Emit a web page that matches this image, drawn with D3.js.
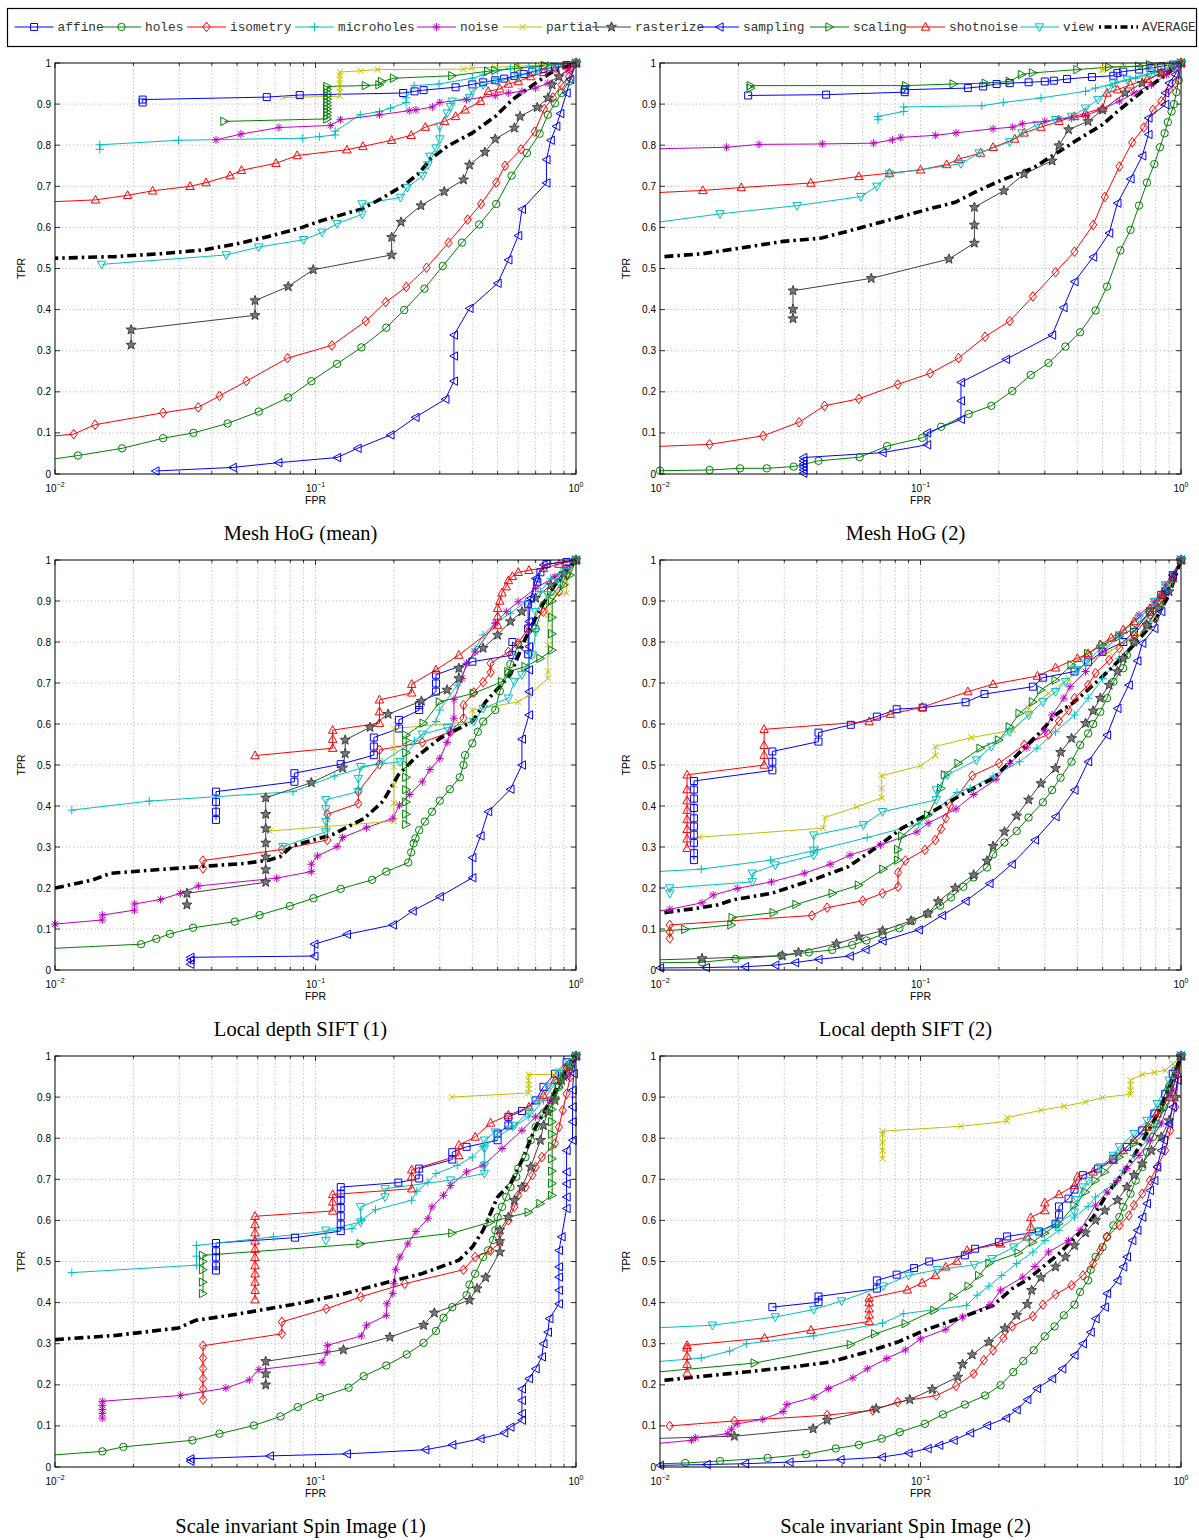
<!DOCTYPE html>
<html><head><meta charset="utf-8">
<script src="https://cdn.jsdelivr.net/npm/d3@7"></script>
<style>body{margin:0;background:#fff}svg{display:block}</style>
</head><body><svg id="c" width="1199" height="1540"></svg>
<script>
const seriesNames = ["affine","holes","isometry","microholes","noise","partial","rasterize","sampling","scaling","shotnoise","view","AVERAGE"];
const seriesColors = ["#0000ff","#008000","#ff0000","#00bfbf","#bf00bf","#bfbf00","#404040","#0000ff","#008000","#ff0000","#00bfbf","#000000"];
const seriesMarkers = ["square","circle","diamond","plus","star","x","pentagram","left","right","up","down","none"];
const panelTitles = ["Mesh HoG (mean)","Mesh HoG (2)","Local depth SIFT (1)","Local depth SIFT (2)","Scale invariant Spin Image (1)","Scale invariant Spin Image (2)"];
const yTicks = [0,0.1,0.2,0.3,0.4,0.5,0.6,0.7,0.8,0.9,1];
const yTickLabels = ["0","0.1","0.2","0.3","0.4","0.5","0.6","0.7","0.8","0.9","1"];
const xTicks = [0.01,0.1,1];
const xTickExps = ["\u22122","\u22121","0"];

const meshHogMean = [
[[0.0217,0.904],[0.0217,0.911],[0.065,0.917],[0.087,0.922],[0.217,0.927],[0.24,0.931],[0.26,0.934],[0.345,0.941],[0.4,0.948],[0.44,0.953],[0.49,0.958],[0.53,0.962],[0.58,0.968],[0.63,0.973],[0.68,0.979],[0.75,0.985],[0.83,0.99],[0.92,0.995],[1,1]],
[[0.008,0.028],[0.01225,0.045],[0.0181,0.0625],[0.026,0.087],[0.034,0.1],[0.046,0.123],[0.0606,0.152],[0.0786,0.186],[0.0964,0.226],[0.121,0.268],[0.15,0.308],[0.187,0.356],[0.219,0.399],[0.262,0.451],[0.308,0.506],[0.365,0.563],[0.425,0.607],[0.494,0.657],[0.566,0.726],[0.648,0.781],[0.725,0.828],[0.78,0.874],[0.83,0.902],[0.88,0.927],[0.94,0.955],[1,1]],
[[0.008,0.087],[0.0118,0.097],[0.01426,0.12],[0.026,0.149],[0.0355,0.162],[0.0428,0.19],[0.0543,0.226],[0.0781,0.282],[0.1156,0.313],[0.156,0.372],[0.186,0.418],[0.223,0.455],[0.267,0.502],[0.324,0.563],[0.384,0.619],[0.432,0.657],[0.494,0.709],[0.534,0.75],[0.616,0.79],[0.694,0.833],[0.755,0.888],[0.815,0.916],[0.88,0.947],[0.94,0.967],[1,1]],
[[0.01486,0.79],[0.01486,0.801],[0.0298,0.812],[0.0893,0.817],[0.1035,0.821],[0.119,0.825],[0.119,0.834],[0.1486,0.874],[0.176,0.882],[0.194,0.89],[0.223,0.904],[0.223,0.915],[0.239,0.945],[0.298,0.949],[0.4,0.963],[0.44,0.971],[0.5,0.982],[0.56,0.987],[0.66,0.99],[0.78,0.994],[1,1]],
[[0.0415,0.813],[0.0517,0.827],[0.0724,0.843],[0.114,0.848],[0.1247,0.862],[0.176,0.874],[0.229,0.884],[0.243,0.886],[0.281,0.893],[0.3,0.904],[0.38,0.911],[0.49,0.921],[0.55,0.927],[0.62,0.931],[0.7,0.939],[0.78,0.951],[0.86,0.967],[0.94,0.983],[1,1]],
[[0.075,0.916],[0.124,0.919],[0.124,0.93],[0.124,0.94],[0.124,0.95],[0.124,0.96],[0.124,0.97],[0.124,0.978],[0.149,0.981],[0.173,0.984],[0.37,0.985],[0.4,0.988],[0.49,0.99],[0.6,0.992],[0.76,0.996],[1,1]],
[[0.0196,0.314],[0.0196,0.351],[0.0586,0.386],[0.0586,0.422],[0.0786,0.456],[0.098,0.497],[0.196,0.533],[0.196,0.576],[0.213,0.613],[0.254,0.653],[0.312,0.687],[0.37,0.716],[0.39,0.752],[0.447,0.783],[0.49,0.815],[0.58,0.842],[0.61,0.87],[0.71,0.892],[0.78,0.915],[0.81,0.947],[0.86,0.967],[1,1]],
[[0.0243,0.0073],[0.0481,0.016],[0.072,0.0276],[0.121,0.04],[0.145,0.0625],[0.194,0.095],[0.242,0.138],[0.315,0.182],[0.34,0.226],[0.34,0.287],[0.34,0.338],[0.39,0.403],[0.5,0.464],[0.55,0.521],[0.6,0.58],[0.62,0.644],[0.77,0.708],[0.77,0.765],[0.8,0.812],[0.84,0.846],[0.87,0.877],[0.92,0.927],[0.95,0.96],[1,1]],
[[0.0447,0.858],[0.111,0.864],[0.111,0.872],[0.111,0.88],[0.111,0.888],[0.111,0.896],[0.111,0.904],[0.111,0.912],[0.111,0.92],[0.111,0.928],[0.111,0.936],[0.111,0.943],[0.156,0.945],[0.176,0.947],[0.18,0.955],[0.2,0.963],[0.335,0.969],[0.46,0.98],[0.49,0.982],[0.6,0.987],[0.76,0.994],[1,1]],
[[0.008,0.66],[0.0143,0.667],[0.019,0.678],[0.0237,0.689],[0.033,0.7],[0.038,0.709],[0.047,0.726],[0.052,0.739],[0.0705,0.756],[0.085,0.775],[0.132,0.789],[0.152,0.797],[0.196,0.812],[0.233,0.824],[0.264,0.844],[0.313,0.858],[0.345,0.87],[0.375,0.886],[0.43,0.907],[0.46,0.931],[0.51,0.937],[0.55,0.949],[0.6,0.955],[0.67,0.967],[0.75,0.977],[0.83,0.986],[0.92,0.994],[1,1]],
[[0.0151,0.51],[0.0454,0.533],[0.0605,0.552],[0.09,0.57],[0.106,0.588],[0.121,0.609],[0.151,0.632],[0.151,0.657],[0.212,0.673],[0.225,0.697],[0.258,0.726],[0.27,0.752],[0.275,0.773],[0.29,0.793],[0.3,0.815],[0.3,0.846],[0.32,0.878],[0.33,0.894],[0.335,0.907],[0.39,0.916],[0.4,0.933],[0.44,0.947],[0.5,0.955],[0.6,0.967],[0.7,0.98],[0.83,0.99],[1,1]],
[[0.008,0.524],[0.01,0.525],[0.017,0.529],[0.0255,0.536],[0.037,0.545],[0.05,0.56],[0.066,0.578],[0.087,0.598],[0.106,0.617],[0.151,0.645],[0.18,0.671],[0.22,0.704],[0.25,0.732],[0.275,0.765],[0.32,0.797],[0.4,0.83],[0.49,0.87],[0.57,0.911],[0.7,0.951],[0.8,0.976],[1,1]]
];

const meshHog2 = [
[[0.0218,0.921],[0.0434,0.923],[0.087,0.929],[0.087,0.935],[0.152,0.939],[0.174,0.943],[0.196,0.949],[0.22,0.951],[0.26,0.953],[0.3,0.955],[0.325,0.957],[0.365,0.961],[0.455,0.966],[0.55,0.969],[0.57,0.976],[0.6,0.979],[0.69,0.984],[0.77,0.988],[0.84,0.992],[0.93,0.996],[1,1]],
[[0.01,0.008],[0.0155,0.0097],[0.0203,0.0138],[0.0257,0.0138],[0.0326,0.018],[0.0406,0.032],[0.0584,0.041],[0.0745,0.068],[0.1015,0.088],[0.12,0.115],[0.153,0.146],[0.187,0.166],[0.225,0.202],[0.265,0.241],[0.31,0.27],[0.36,0.31],[0.41,0.345],[0.47,0.398],[0.52,0.456],[0.585,0.544],[0.64,0.594],[0.69,0.653],[0.74,0.709],[0.79,0.754],[0.83,0.795],[0.865,0.829],[0.89,0.856],[0.92,0.882],[0.94,0.9],[0.96,0.929],[0.98,0.958],[1,1]],
[[0.008,0.065],[0.0155,0.072],[0.0249,0.093],[0.0342,0.126],[0.0428,0.166],[0.058,0.183],[0.0818,0.218],[0.109,0.245],[0.14,0.282],[0.177,0.334],[0.22,0.372],[0.27,0.432],[0.33,0.491],[0.39,0.541],[0.46,0.606],[0.51,0.674],[0.58,0.748],[0.65,0.807],[0.72,0.843],[0.78,0.886],[0.84,0.907],[0.9,0.935],[0.95,0.951],[1,1]],
[[0.0687,0.862],[0.0687,0.87],[0.0862,0.882],[0.0862,0.893],[0.172,0.896],[0.208,0.904],[0.29,0.915],[0.43,0.931],[0.47,0.939],[0.56,0.951],[0.67,0.963],[0.79,0.976],[0.93,0.992],[1,1]],
[[0.008,0.79],[0.018,0.795],[0.024,0.802],[0.042,0.803],[0.066,0.805],[0.078,0.813],[0.084,0.819],[0.114,0.824],[0.137,0.83],[0.19,0.84],[0.226,0.844],[0.246,0.852],[0.3,0.858],[0.34,0.864],[0.38,0.866],[0.43,0.872],[0.49,0.886],[0.58,0.907],[0.66,0.927],[0.77,0.947],[0.88,0.972],[1,1]],
[[0.5,0.982],[0.5,0.986],[0.51,0.99],[0.6,0.991],[0.7,0.993],[0.8,0.995],[0.9,0.998],[1,1]],
[[0.0324,0.378],[0.0324,0.401],[0.0324,0.446],[0.0647,0.476],[0.1286,0.523],[0.161,0.562],[0.161,0.606],[0.161,0.649],[0.209,0.689],[0.25,0.73],[0.32,0.762],[0.34,0.799],[0.37,0.838],[0.44,0.858],[0.5,0.886],[0.61,0.927],[0.71,0.951],[0.84,0.976],[1,1]],
[[0.0355,0.002],[0.0355,0.01],[0.0355,0.017],[0.0355,0.024],[0.0355,0.032],[0.0355,0.04],[0.0715,0.052],[0.106,0.071],[0.106,0.1],[0.143,0.133],[0.143,0.178],[0.143,0.223],[0.213,0.279],[0.32,0.338],[0.354,0.405],[0.39,0.468],[0.46,0.528],[0.53,0.586],[0.57,0.659],[0.64,0.718],[0.71,0.774],[0.75,0.826],[0.75,0.866],[0.87,0.899],[0.87,0.927],[0.9,0.951],[0.95,0.972],[1,1]],
[[0.0223,0.939],[0.0223,0.945],[0.088,0.945],[0.134,0.949],[0.178,0.951],[0.22,0.955],[0.245,0.972],[0.27,0.976],[0.4,0.984],[0.53,0.99],[0.69,0.992],[0.76,0.996],[1,1]],
[[0.008,0.682],[0.0146,0.69],[0.0205,0.697],[0.0379,0.708],[0.058,0.724],[0.076,0.732],[0.1,0.74],[0.126,0.753],[0.14,0.766],[0.17,0.781],[0.19,0.795],[0.23,0.815],[0.25,0.83],[0.29,0.844],[0.34,0.858],[0.39,0.87],[0.43,0.878],[0.5,0.89],[0.52,0.927],[0.57,0.935],[0.64,0.947],[0.74,0.96],[0.84,0.976],[0.93,0.988],[1,1]],
[[0.008,0.605],[0.017,0.633],[0.0336,0.653],[0.059,0.675],[0.068,0.7],[0.076,0.73],[0.143,0.755],[0.168,0.781],[0.22,0.808],[0.245,0.83],[0.28,0.85],[0.33,0.862],[0.38,0.87],[0.43,0.89],[0.48,0.911],[0.53,0.937],[0.55,0.951],[0.62,0.96],[0.76,0.976],[0.93,0.992],[1,1]],
[[0.0104,0.529],[0.0146,0.536],[0.0205,0.55],[0.0297,0.566],[0.0417,0.574],[0.058,0.598],[0.082,0.624],[0.111,0.647],[0.136,0.661],[0.161,0.685],[0.203,0.714],[0.27,0.744],[0.33,0.779],[0.4,0.813],[0.5,0.85],[0.58,0.886],[0.71,0.931],[0.84,0.963],[1,1]]
];

const localDepthSift1 = [
[[0.0415,0.366],[0.0415,0.386],[0.0415,0.41],[0.0415,0.435],[0.083,0.459],[0.083,0.48],[0.125,0.502],[0.1675,0.524],[0.1675,0.545],[0.1675,0.567],[0.209,0.589],[0.209,0.61],[0.25,0.634],[0.25,0.646],[0.29,0.679],[0.29,0.699],[0.29,0.72],[0.4,0.752],[0.57,0.768],[0.57,0.8],[0.655,0.77],[0.655,0.833],[0.655,0.892],[0.71,0.947],[0.73,0.97],[0.77,0.99],[0.92,0.995],[1,1]],
[[0.008,0.05],[0.0214,0.063],[0.0245,0.076],[0.0276,0.088],[0.0339,0.103],[0.049,0.118],[0.061,0.134],[0.0797,0.156],[0.0982,0.175],[0.125,0.198],[0.165,0.22],[0.187,0.24],[0.227,0.262],[0.233,0.287],[0.238,0.309],[0.242,0.321],[0.25,0.341],[0.263,0.362],[0.28,0.386],[0.3,0.413],[0.328,0.441],[0.358,0.47],[0.37,0.5],[0.375,0.524],[0.4,0.553],[0.42,0.581],[0.44,0.606],[0.49,0.634],[0.51,0.68],[0.55,0.724],[0.56,0.746],[0.6,0.793],[0.7,0.833],[0.75,0.89],[0.8,0.923],[0.86,0.955],[0.92,0.98],[1,1]],
[[0.037,0.248],[0.037,0.267],[0.0743,0.294],[0.111,0.317],[0.111,0.38],[0.146,0.406],[0.146,0.435],[0.176,0.502],[0.176,0.537],[0.257,0.555],[0.33,0.581],[0.37,0.614],[0.37,0.646],[0.405,0.677],[0.44,0.702],[0.47,0.726],[0.47,0.748],[0.55,0.776],[0.6,0.797],[0.66,0.837],[0.75,0.874],[0.86,0.923],[0.92,0.963],[1,1]],
[[0.0116,0.39],[0.023,0.412],[0.082,0.435],[0.118,0.473],[0.18,0.507],[0.24,0.559],[0.29,0.606],[0.3,0.634],[0.35,0.695],[0.41,0.783],[0.44,0.817],[0.49,0.846],[0.56,0.87],[0.64,0.898],[0.73,0.923],[0.8,0.955],[0.9,0.98],[1,1]],
[[0.01,0.112],[0.0152,0.122],[0.0152,0.134],[0.0202,0.146],[0.0202,0.161],[0.0254,0.172],[0.0303,0.187],[0.0355,0.205],[0.0709,0.224],[0.0964,0.24],[0.0964,0.258],[0.1017,0.278],[0.121,0.301],[0.127,0.323],[0.157,0.347],[0.198,0.37],[0.21,0.402],[0.23,0.428],[0.257,0.459],[0.275,0.489],[0.3,0.516],[0.32,0.555],[0.33,0.581],[0.34,0.614],[0.34,0.66],[0.365,0.711],[0.38,0.748],[0.41,0.776],[0.49,0.846],[0.54,0.874],[0.6,0.898],[0.7,0.931],[0.83,0.959],[0.92,0.98],[1,1]],
[[0.0667,0.339],[0.2,0.363],[0.2,0.407],[0.2,0.451],[0.2,0.496],[0.2,0.541],[0.2,0.589],[0.4,0.606],[0.4,0.634],[0.6,0.654],[0.66,0.671],[0.78,0.711],[0.78,0.728],[0.78,0.793],[0.78,0.866],[0.78,0.912],[0.92,0.919],[0.92,0.947],[0.95,0.972],[1,1]],
[[0.0321,0.159],[0.0321,0.187],[0.0644,0.214],[0.0644,0.245],[0.0644,0.276],[0.0644,0.31],[0.0644,0.345],[0.0644,0.38],[0.0644,0.42],[0.0964,0.457],[0.127,0.493],[0.13,0.528],[0.13,0.561],[0.162,0.592],[0.19,0.624],[0.255,0.656],[0.32,0.683],[0.355,0.711],[0.355,0.736],[0.44,0.785],[0.5,0.817],[0.56,0.85],[0.62,0.874],[0.7,0.907],[0.8,0.939],[0.9,0.967],[1,1]],
[[0.0331,0.014],[0.0331,0.024],[0.0331,0.031],[0.099,0.034],[0.099,0.063],[0.132,0.087],[0.198,0.11],[0.236,0.144],[0.3,0.179],[0.4,0.225],[0.4,0.274],[0.43,0.327],[0.46,0.386],[0.56,0.441],[0.62,0.5],[0.62,0.563],[0.66,0.622],[0.66,0.679],[0.66,0.732],[0.66,0.789],[0.66,0.85],[0.67,0.907],[0.7,0.955],[0.75,0.988],[1,1]],
[[0.223,0.355],[0.223,0.38],[0.223,0.41],[0.223,0.44],[0.223,0.47],[0.223,0.5],[0.223,0.53],[0.223,0.56],[0.223,0.573],[0.26,0.602],[0.3,0.654],[0.405,0.675],[0.52,0.703],[0.55,0.728],[0.64,0.74],[0.73,0.76],[0.81,0.78],[0.81,0.82],[0.81,0.86],[0.81,0.9],[0.9,0.939],[0.95,0.963],[1,1]],
[[0.0586,0.523],[0.1164,0.541],[0.1164,0.563],[0.1164,0.585],[0.176,0.602],[0.176,0.63],[0.176,0.659],[0.234,0.676],[0.234,0.697],[0.29,0.732],[0.355,0.768],[0.5,0.841],[0.5,0.862],[0.5,0.882],[0.51,0.9],[0.52,0.92],[0.54,0.935],[0.55,0.95],[0.57,0.96],[0.6,0.97],[0.66,0.975],[0.75,0.98],[0.86,0.99],[1,1]],
[[0.075,0.301],[0.1096,0.337],[0.1096,0.362],[0.1096,0.393],[0.1096,0.415],[0.146,0.435],[0.146,0.467],[0.149,0.496],[0.211,0.508],[0.257,0.575],[0.32,0.591],[0.405,0.606],[0.44,0.638],[0.55,0.663],[0.58,0.703],[0.62,0.72],[0.68,0.768],[0.7,0.825],[0.7,0.874],[0.78,0.915],[0.86,0.947],[0.92,0.972],[1,1]],
[[0.01,0.2],[0.0121,0.211],[0.014,0.22],[0.0164,0.236],[0.0239,0.244],[0.0358,0.252],[0.0536,0.26],[0.066,0.268],[0.073,0.276],[0.081,0.302],[0.117,0.331],[0.154,0.37],[0.182,0.412],[0.208,0.476],[0.24,0.516],[0.3,0.565],[0.4,0.606],[0.45,0.654],[0.56,0.72],[0.64,0.809],[0.73,0.882],[0.83,0.939],[1,1]]
];

const localDepthSift2 = [
[[0.0135,0.268],[0.0135,0.285],[0.0135,0.31],[0.0135,0.33],[0.0135,0.35],[0.0135,0.37],[0.0135,0.395],[0.0135,0.418],[0.0135,0.44],[0.0135,0.461],[0.027,0.487],[0.027,0.508],[0.027,0.533],[0.0406,0.557],[0.0406,0.579],[0.054,0.598],[0.068,0.618],[0.081,0.636],[0.102,0.64],[0.149,0.653],[0.176,0.673],[0.27,0.691],[0.295,0.713],[0.39,0.728],[0.44,0.752],[0.5,0.776],[0.6,0.8],[0.66,0.825],[0.76,0.874],[0.84,0.915],[0.93,0.963],[1,1]],
[[0.008,0.017],[0.0145,0.019],[0.0195,0.027],[0.0292,0.035],[0.0373,0.043],[0.0458,0.049],[0.0547,0.061],[0.062,0.072],[0.0715,0.087],[0.083,0.102],[0.093,0.12],[0.106,0.137],[0.119,0.157],[0.131,0.177],[0.146,0.203],[0.16,0.226],[0.18,0.25],[0.19,0.282],[0.21,0.311],[0.234,0.339],[0.26,0.372],[0.295,0.409],[0.32,0.439],[0.345,0.469],[0.38,0.508],[0.41,0.549],[0.44,0.577],[0.46,0.6],[0.49,0.63],[0.52,0.663],[0.55,0.703],[0.6,0.736],[0.62,0.768],[0.66,0.8],[0.74,0.841],[0.82,0.882],[0.87,0.923],[0.93,0.963],[1,1]],
[[0.0109,0.077],[0.0109,0.093],[0.0109,0.11],[0.0383,0.133],[0.0438,0.152],[0.06,0.169],[0.0715,0.187],[0.082,0.203],[0.082,0.238],[0.0875,0.267],[0.104,0.293],[0.114,0.317],[0.12,0.344],[0.125,0.37],[0.13,0.4],[0.158,0.474],[0.2,0.504],[0.25,0.549],[0.31,0.575],[0.34,0.607],[0.37,0.634],[0.39,0.663],[0.44,0.695],[0.47,0.724],[0.53,0.756],[0.58,0.785],[0.66,0.817],[0.76,0.866],[0.84,0.907],[0.93,0.955],[1,1]],
[[0.008,0.237],[0.0144,0.246],[0.0266,0.268],[0.0403,0.293],[0.0624,0.323],[0.0985,0.356],[0.138,0.433],[0.155,0.443],[0.19,0.473],[0.24,0.508],[0.28,0.541],[0.33,0.581],[0.39,0.622],[0.44,0.663],[0.5,0.711],[0.58,0.76],[0.66,0.8],[0.76,0.85],[0.84,0.89],[0.93,0.947],[1,1]],
[[0.008,0.135],[0.0109,0.148],[0.0145,0.164],[0.016,0.183],[0.0198,0.199],[0.0268,0.215],[0.0358,0.236],[0.045,0.258],[0.0536,0.28],[0.0702,0.305],[0.097,0.337],[0.107,0.358],[0.137,0.393],[0.16,0.428],[0.195,0.465],[0.22,0.504],[0.256,0.542],[0.3,0.583],[0.32,0.622],[0.355,0.663],[0.375,0.691],[0.43,0.728],[0.5,0.776],[0.58,0.817],[0.69,0.866],[0.79,0.898],[0.87,0.939],[1,1]],
[[0.0142,0.324],[0.0424,0.346],[0.043,0.372],[0.057,0.398],[0.071,0.42],[0.071,0.443],[0.071,0.474],[0.1,0.498],[0.114,0.523],[0.114,0.545],[0.157,0.567],[0.226,0.585],[0.26,0.622],[0.26,0.64],[0.31,0.675],[0.37,0.711],[0.44,0.752],[0.53,0.776],[0.61,0.8],[0.69,0.817],[0.74,0.833],[0.81,0.857],[0.84,0.89],[0.9,0.939],[1,1]],
[[0.008,0.023],[0.0145,0.028],[0.0295,0.035],[0.034,0.043],[0.0476,0.064],[0.058,0.081],[0.0715,0.096],[0.092,0.12],[0.107,0.138],[0.117,0.167],[0.136,0.2],[0.16,0.232],[0.18,0.266],[0.19,0.302],[0.21,0.337],[0.234,0.376],[0.26,0.415],[0.29,0.455],[0.33,0.492],[0.345,0.531],[0.38,0.565],[0.43,0.602],[0.46,0.632],[0.49,0.663],[0.53,0.695],[0.57,0.728],[0.6,0.76],[0.66,0.8],[0.74,0.841],[0.82,0.882],[0.9,0.923],[1,1]],
[[0.01,0.005],[0.015,0.006],[0.0212,0.008],[0.0277,0.012],[0.033,0.018],[0.0406,0.026],[0.0535,0.034],[0.0615,0.05],[0.0715,0.071],[0.0985,0.098],[0.121,0.133],[0.149,0.168],[0.184,0.211],[0.224,0.258],[0.275,0.317],[0.33,0.374],[0.39,0.439],[0.44,0.508],[0.52,0.573],[0.57,0.638],[0.63,0.695],[0.68,0.754],[0.71,0.797],[0.79,0.833],[0.84,0.874],[0.87,0.923],[0.93,0.963],[1,1]],
[[0.008,0.09],[0.0125,0.099],[0.0188,0.11],[0.019,0.128],[0.0273,0.14],[0.0334,0.16],[0.046,0.187],[0.058,0.207],[0.072,0.246],[0.082,0.268],[0.082,0.294],[0.085,0.327],[0.107,0.378],[0.12,0.443],[0.124,0.476],[0.14,0.504],[0.17,0.541],[0.2,0.561],[0.22,0.593],[0.24,0.626],[0.27,0.654],[0.29,0.683],[0.33,0.707],[0.38,0.744],[0.44,0.772],[0.5,0.793],[0.58,0.813],[0.66,0.833],[0.76,0.874],[0.87,0.923],[1,1]],
[[0.0127,0.297],[0.0127,0.32],[0.0127,0.343],[0.0127,0.367],[0.0127,0.39],[0.0127,0.413],[0.0127,0.44],[0.0127,0.476],[0.0251,0.5],[0.0251,0.524],[0.0251,0.548],[0.0251,0.587],[0.0635,0.606],[0.0766,0.624],[0.1015,0.641],[0.152,0.679],[0.19,0.697],[0.281,0.717],[0.33,0.737],[0.4,0.76],[0.44,0.772],[0.49,0.793],[0.54,0.81],[0.6,0.83],[0.66,0.85],[0.76,0.882],[0.84,0.915],[0.93,0.955],[1,1]],
[[0.0109,0.187],[0.0109,0.2],[0.0226,0.215],[0.0226,0.236],[0.0277,0.256],[0.0389,0.28],[0.0389,0.292],[0.0389,0.329],[0.0604,0.354],[0.0715,0.386],[0.115,0.415],[0.115,0.439],[0.127,0.476],[0.164,0.512],[0.187,0.545],[0.22,0.581],[0.26,0.622],[0.295,0.654],[0.33,0.679],[0.36,0.703],[0.4,0.732],[0.43,0.748],[0.49,0.785],[0.58,0.817],[0.69,0.858],[0.79,0.898],[0.87,0.939],[1,1]],
[[0.0104,0.14],[0.0137,0.15],[0.0167,0.159],[0.019,0.171],[0.0268,0.187],[0.0403,0.224],[0.0528,0.252],[0.067,0.297],[0.085,0.346],[0.111,0.386],[0.145,0.429],[0.19,0.467],[0.234,0.524],[0.285,0.577],[0.33,0.622],[0.39,0.654],[0.46,0.695],[0.54,0.736],[0.66,0.793],[0.79,0.85],[0.9,0.915],[1,1]]
];

const spinImage1 = [
[[0.0415,0.478],[0.0415,0.49],[0.0415,0.51],[0.0415,0.525],[0.0415,0.545],[0.0834,0.558],[0.125,0.574],[0.125,0.59],[0.125,0.61],[0.125,0.63],[0.125,0.65],[0.125,0.665],[0.125,0.681],[0.208,0.692],[0.25,0.702],[0.25,0.726],[0.335,0.748],[0.335,0.766],[0.38,0.779],[0.5,0.795],[0.5,0.811],[0.55,0.831],[0.55,0.852],[0.62,0.866],[0.7,0.892],[0.75,0.925],[0.83,0.957],[0.92,0.985],[1,1]],
[[0.008,0.025],[0.0152,0.038],[0.0183,0.049],[0.0337,0.065],[0.0428,0.081],[0.058,0.101],[0.0734,0.123],[0.0855,0.146],[0.104,0.17],[0.134,0.193],[0.153,0.221],[0.187,0.247],[0.224,0.274],[0.26,0.302],[0.29,0.331],[0.31,0.363],[0.335,0.389],[0.38,0.418],[0.39,0.444],[0.41,0.47],[0.44,0.511],[0.46,0.527],[0.48,0.552],[0.49,0.576],[0.5,0.608],[0.52,0.633],[0.54,0.657],[0.56,0.681],[0.59,0.706],[0.6,0.726],[0.64,0.754],[0.67,0.795],[0.7,0.827],[0.75,0.86],[0.8,0.892],[0.86,0.925],[0.92,0.957],[1,1]],
[[0.037,0.164],[0.037,0.19],[0.037,0.215],[0.037,0.24],[0.037,0.265],[0.037,0.295],[0.0743,0.324],[0.0743,0.353],[0.11,0.385],[0.149,0.414],[0.22,0.446],[0.37,0.48],[0.41,0.511],[0.47,0.526],[0.51,0.546],[0.51,0.569],[0.55,0.6],[0.58,0.633],[0.6,0.661],[0.64,0.681],[0.68,0.71],[0.7,0.73],[0.74,0.754],[0.83,0.787],[0.86,0.827],[0.89,0.868],[0.92,0.908],[0.95,0.949],[1,1]],
[[0.0116,0.473],[0.0349,0.491],[0.0349,0.513],[0.0349,0.539],[0.069,0.56],[0.138,0.58],[0.15,0.6],[0.17,0.626],[0.234,0.649],[0.245,0.671],[0.27,0.693],[0.29,0.714],[0.35,0.734],[0.4,0.754],[0.44,0.779],[0.5,0.803],[0.57,0.827],[0.66,0.852],[0.75,0.892],[0.83,0.933],[0.92,0.965],[1,1]],
[[0.0152,0.119],[0.0152,0.13],[0.0152,0.14],[0.0152,0.15],[0.0152,0.16],[0.0303,0.174],[0.0453,0.192],[0.0557,0.212],[0.0606,0.237],[0.106,0.255],[0.111,0.28],[0.111,0.296],[0.15,0.319],[0.157,0.345],[0.187,0.369],[0.188,0.397],[0.198,0.422],[0.2,0.446],[0.203,0.48],[0.211,0.511],[0.226,0.543],[0.243,0.573],[0.27,0.604],[0.28,0.633],[0.31,0.661],[0.33,0.685],[0.38,0.718],[0.44,0.734],[0.52,0.775],[0.62,0.819],[0.7,0.852],[0.8,0.892],[0.92,0.949],[1,1]],
[[0.333,0.9],[0.658,0.91],[0.658,0.92],[0.658,0.93],[0.658,0.94],[0.658,0.955],[0.83,0.955],[0.86,0.965],[0.92,0.981],[1,1]],
[[0.0644,0.2],[0.0644,0.227],[0.0644,0.257],[0.128,0.285],[0.193,0.316],[0.26,0.345],[0.286,0.375],[0.39,0.406],[0.417,0.434],[0.45,0.461],[0.51,0.523],[0.51,0.549],[0.51,0.576],[0.55,0.608],[0.58,0.649],[0.62,0.681],[0.67,0.73],[0.73,0.795],[0.75,0.831],[0.78,0.864],[0.83,0.892],[0.88,0.941],[0.95,0.973],[1,1]],
[[0.0331,0.014],[0.0331,0.02],[0.0668,0.027],[0.132,0.032],[0.264,0.042],[0.335,0.054],[0.43,0.069],[0.53,0.083],[0.56,0.097],[0.62,0.114],[0.62,0.13],[0.62,0.162],[0.62,0.19],[0.66,0.215],[0.7,0.239],[0.74,0.268],[0.75,0.3],[0.78,0.328],[0.79,0.361],[0.86,0.397],[0.86,0.43],[0.86,0.462],[0.86,0.487],[0.86,0.527],[0.88,0.56],[0.92,0.629],[0.92,0.657],[0.92,0.689],[0.92,0.718],[0.92,0.77],[0.97,0.795],[0.97,0.84],[0.97,0.876],[0.97,0.917],[0.98,0.957],[1,1]],
[[0.037,0.422],[0.037,0.45],[0.037,0.48],[0.037,0.5],[0.037,0.515],[0.149,0.543],[0.335,0.569],[0.47,0.596],[0.658,0.62],[0.73,0.641],[0.81,0.661],[0.81,0.69],[0.81,0.72],[0.81,0.75],[0.81,0.78],[0.81,0.81],[0.81,0.84],[0.81,0.87],[0.83,0.9],[0.86,0.925],[0.9,0.949],[0.95,0.973],[1,1]],
[[0.0586,0.407],[0.0586,0.43],[0.0586,0.45],[0.0586,0.47],[0.0586,0.49],[0.0586,0.51],[0.0586,0.53],[0.0586,0.55],[0.0586,0.57],[0.0586,0.59],[0.0586,0.61],[0.1164,0.623],[0.1164,0.645],[0.1164,0.663],[0.234,0.677],[0.234,0.706],[0.234,0.723],[0.355,0.758],[0.355,0.783],[0.41,0.803],[0.47,0.837],[0.55,0.856],[0.66,0.876],[0.75,0.904],[0.83,0.941],[0.92,0.973],[1,1]],
[[0.1096,0.551],[0.1096,0.576],[0.149,0.596],[0.149,0.633],[0.185,0.657],[0.185,0.677],[0.33,0.698],[0.445,0.714],[0.445,0.734],[0.445,0.775],[0.445,0.795],[0.49,0.815],[0.58,0.831],[0.66,0.864],[0.7,0.892],[0.78,0.925],[0.86,0.957],[0.94,0.985],[1,1]],
[[0.01,0.31],[0.017,0.32],[0.0297,0.338],[0.0347,0.357],[0.047,0.369],[0.066,0.385],[0.092,0.401],[0.13,0.422],[0.18,0.446],[0.255,0.47],[0.355,0.503],[0.4,0.535],[0.44,0.576],[0.5,0.657],[0.56,0.689],[0.62,0.746],[0.7,0.827],[0.8,0.892],[0.88,0.949],[1,1]]
];

const spinImage2 = [
[[0.027,0.389],[0.0406,0.401],[0.0406,0.415],[0.068,0.434],[0.068,0.454],[0.081,0.468],[0.0945,0.484],[0.108,0.5],[0.148,0.515],[0.162,0.531],[0.2,0.547],[0.215,0.561],[0.285,0.573],[0.33,0.592],[0.34,0.614],[0.34,0.634],[0.37,0.653],[0.39,0.675],[0.42,0.71],[0.48,0.726],[0.55,0.75],[0.62,0.779],[0.71,0.819],[0.79,0.86],[0.87,0.908],[0.93,0.957],[1,1]],
[[0.008,0.006],[0.0125,0.0097],[0.017,0.0146],[0.0259,0.0219],[0.0364,0.031],[0.0473,0.045],[0.058,0.054],[0.071,0.069],[0.0832,0.085],[0.104,0.105],[0.122,0.128],[0.148,0.152],[0.177,0.174],[0.203,0.199],[0.227,0.231],[0.248,0.258],[0.272,0.284],[0.3,0.318],[0.327,0.342],[0.355,0.369],[0.39,0.395],[0.41,0.426],[0.44,0.454],[0.45,0.48],[0.47,0.511],[0.5,0.535],[0.52,0.56],[0.55,0.588],[0.58,0.608],[0.6,0.633],[0.64,0.665],[0.67,0.697],[0.71,0.73],[0.74,0.766],[0.78,0.803],[0.81,0.835],[0.86,0.876],[0.9,0.925],[0.95,0.965],[1,1]],
[[0.0109,0.1],[0.0193,0.112],[0.0438,0.126],[0.0656,0.138],[0.0818,0.158],[0.115,0.174],[0.137,0.197],[0.16,0.227],[0.175,0.26],[0.19,0.284],[0.208,0.314],[0.225,0.342],[0.27,0.367],[0.295,0.395],[0.33,0.42],[0.38,0.442],[0.42,0.466],[0.46,0.495],[0.49,0.527],[0.52,0.56],[0.58,0.588],[0.63,0.612],[0.66,0.637],[0.71,0.665],[0.76,0.697],[0.81,0.73],[0.87,0.77],[0.91,0.819],[0.95,0.876],[1,1]],
[[0.008,0.252],[0.0144,0.265],[0.0185,0.282],[0.0215,0.3],[0.0389,0.319],[0.0715,0.35],[0.0862,0.373],[0.15,0.393],[0.165,0.418],[0.183,0.44],[0.205,0.466],[0.234,0.495],[0.27,0.523],[0.3,0.551],[0.34,0.576],[0.39,0.608],[0.44,0.634],[0.47,0.657],[0.55,0.689],[0.6,0.722],[0.66,0.758],[0.74,0.795],[0.81,0.835],[0.9,0.892],[0.97,0.957],[1,1]],
[[0.008,0.052],[0.0132,0.065],[0.0137,0.071],[0.0182,0.081],[0.0188,0.092],[0.0198,0.105],[0.0248,0.116],[0.0297,0.135],[0.0307,0.152],[0.039,0.17],[0.0443,0.191],[0.055,0.217],[0.0625,0.239],[0.0742,0.264],[0.0875,0.285],[0.1,0.312],[0.125,0.335],[0.145,0.365],[0.185,0.395],[0.203,0.43],[0.247,0.462],[0.275,0.488],[0.31,0.523],[0.37,0.551],[0.41,0.576],[0.47,0.637],[0.52,0.669],[0.57,0.697],[0.62,0.726],[0.69,0.758],[0.76,0.795],[0.84,0.835],[0.93,0.916],[1,1]],
[[0.0715,0.75],[0.0715,0.77],[0.0715,0.79],[0.0715,0.81],[0.0715,0.817],[0.143,0.829],[0.215,0.841],[0.215,0.85],[0.29,0.868],[0.356,0.878],[0.43,0.888],[0.5,0.899],[0.64,0.907],[0.64,0.916],[0.64,0.929],[0.64,0.941],[0.71,0.955],[0.79,0.96],[0.87,0.965],[0.93,0.981],[1,1]],
[[0.008,0.068],[0.0193,0.075],[0.0387,0.093],[0.0438,0.114],[0.0676,0.142],[0.091,0.164],[0.111,0.189],[0.139,0.219],[0.145,0.25],[0.158,0.273],[0.183,0.304],[0.211,0.337],[0.234,0.369],[0.257,0.396],[0.267,0.43],[0.29,0.461],[0.33,0.487],[0.36,0.511],[0.39,0.539],[0.43,0.57],[0.47,0.6],[0.51,0.624],[0.57,0.649],[0.62,0.681],[0.66,0.71],[0.71,0.738],[0.77,0.77],[0.84,0.803],[0.9,0.843],[0.95,0.9],[1,1]],
[[0.01,0.004],[0.0151,0.006],[0.0212,0.008],[0.0314,0.012],[0.0493,0.018],[0.071,0.024],[0.0899,0.034],[0.1065,0.045],[0.118,0.053],[0.134,0.065],[0.155,0.083],[0.18,0.101],[0.213,0.119],[0.234,0.139],[0.257,0.164],[0.28,0.191],[0.32,0.215],[0.35,0.239],[0.39,0.272],[0.42,0.3],[0.45,0.328],[0.47,0.361],[0.51,0.389],[0.52,0.422],[0.57,0.454],[0.6,0.487],[0.62,0.511],[0.65,0.551],[0.68,0.576],[0.71,0.608],[0.74,0.641],[0.76,0.673],[0.79,0.697],[0.81,0.73],[0.84,0.77],[0.86,0.795],[0.9,0.835],[0.93,0.876],[0.97,0.941],[1,1]],
[[0.008,0.226],[0.0231,0.253],[0.054,0.298],[0.0669,0.324],[0.0877,0.349],[0.113,0.381],[0.134,0.414],[0.153,0.44],[0.168,0.466],[0.184,0.496],[0.238,0.521],[0.27,0.547],[0.3,0.569],[0.34,0.592],[0.39,0.637],[0.43,0.669],[0.47,0.697],[0.51,0.718],[0.58,0.754],[0.66,0.787],[0.76,0.827],[0.84,0.868],[0.91,0.916],[1,1]],
[[0.0127,0.229],[0.0127,0.25],[0.0127,0.27],[0.0127,0.29],[0.0127,0.296],[0.0252,0.314],[0.038,0.333],[0.0635,0.354],[0.0635,0.37],[0.0635,0.385],[0.0635,0.4],[0.0635,0.411],[0.089,0.431],[0.1015,0.448],[0.114,0.466],[0.125,0.487],[0.138,0.501],[0.151,0.527],[0.203,0.543],[0.257,0.56],[0.265,0.584],[0.265,0.607],[0.3,0.624],[0.3,0.643],[0.34,0.663],[0.39,0.685],[0.4,0.706],[0.46,0.718],[0.55,0.746],[0.6,0.77],[0.66,0.795],[0.74,0.827],[0.81,0.86],[0.9,0.9],[0.97,0.957],[1,1]],
[[0.008,0.336],[0.0159,0.345],[0.0277,0.365],[0.0389,0.383],[0.0498,0.404],[0.0719,0.44],[0.0899,0.466],[0.116,0.48],[0.161,0.492],[0.188,0.507],[0.228,0.535],[0.257,0.56],[0.28,0.572],[0.33,0.588],[0.39,0.62],[0.4,0.65],[0.42,0.681],[0.44,0.697],[0.49,0.73],[0.55,0.758],[0.58,0.779],[0.66,0.811],[0.74,0.843],[0.81,0.884],[0.9,0.941],[1,1]],
[[0.0104,0.211],[0.0137,0.219],[0.0212,0.231],[0.0318,0.243],[0.0446,0.255],[0.0625,0.28],[0.0818,0.304],[0.104,0.333],[0.145,0.365],[0.19,0.393],[0.225,0.434],[0.26,0.458],[0.295,0.487],[0.34,0.519],[0.4,0.564],[0.46,0.608],[0.52,0.665],[0.6,0.714],[0.69,0.779],[0.79,0.843],[0.87,0.9],[1,1]]
];

const panelData = [meshHogMean, meshHog2, localDepthSift1, localDepthSift2, spinImage1, spinImage2];

// ---------- layout ----------
const colX = [[55,576],[660,1181]];
const rowY = [[63,474],[560,970],[1056,1467]];
const svg = d3.select("#c");
const FONT = "'Liberation Sans', Arial, Helvetica, sans-serif";

function markerPath(t){
  switch(t){
    case "square": return "M-3.5,-3.5h7v7h-7z";
    case "circle": return "M3.7,0A3.7,3.7 0 1,1 -3.7,0A3.7,3.7 0 1,1 3.7,0Z";
    case "diamond": return "M0,-4.8L3.6,0L0,4.8L-3.6,0Z";
    case "plus": return "M-4.2,0H4.2M0,-4.2V4.2";
    case "star": return "M-4,0H4M0,-4V4M-2.9,-2.9L2.9,2.9M-2.9,2.9L2.9,-2.9";
    case "x": return "M-3,-3L3,3M-3,3L3,-3";
    case "pentagram": {
      let p=[]; for(let i=0;i<10;i++){const r=i%2?2.2:5.2;const a=-Math.PI/2+i*Math.PI/5;p.push([r*Math.cos(a),r*Math.sin(a)]);}
      return "M"+p.map(q=>q[0].toFixed(2)+","+q[1].toFixed(2)).join("L")+"Z";}
    case "left": return "M-4.2,0L3.6,-4.2L3.6,4.2Z";
    case "right": return "M4.2,0L-3.6,-4.2L-3.6,4.2Z";
    case "up": return "M0,-4.6L4.2,3.2L-4.2,3.2Z";
    case "down": return "M0,4.6L4.2,-3.2L-4.2,-3.2Z";
  }
  return "";
}

const defs = svg.append("defs");
panelData.forEach((data, pi) => {
  const [x0,x1] = colX[pi%2];
  const [y0,y1] = rowY[Math.floor(pi/2)];
  const x = d3.scaleLog().domain([0.01,1]).range([x0,x1]);
  const y = d3.scaleLinear().domain([0,1]).range([y1,y0]);
  const g = svg.append("g");

  defs.append("clipPath").attr("id","cl"+pi).append("rect").attr("x",x0).attr("y",y0).attr("width",x1-x0).attr("height",y1-y0);
  defs.append("clipPath").attr("id","cm"+pi).append("rect").attr("x",x0-6).attr("y",y0-6).attr("width",x1-x0+12).attr("height",y1-y0+12);

  const minor = [];
  [0.01,0.1].forEach(d=>{for(let k=2;k<=9;k++) minor.push(d*k);});
  const gx = minor.concat([0.1]);
  g.append("g").selectAll("line").data(gx).join("line")
    .attr("x1",d=>x(d)).attr("x2",d=>x(d)).attr("y1",y0).attr("y2",y1)
    .attr("stroke","#8c8c8c").attr("stroke-width",0.7).attr("stroke-dasharray","1,2.6");
  g.append("g").selectAll("line").data(yTicks.slice(1,-1)).join("line")
    .attr("y1",d=>y(d)).attr("y2",d=>y(d)).attr("x1",x0).attr("x2",x1)
    .attr("stroke","#8c8c8c").attr("stroke-width",0.7).attr("stroke-dasharray","1,2.6");

  const tk = g.append("g").attr("stroke","#000").attr("stroke-width",0.8);
  yTicks.forEach(v=>{
    tk.append("line").attr("x1",x0).attr("x2",x0+5).attr("y1",y(v)).attr("y2",y(v));
    tk.append("line").attr("x1",x1).attr("x2",x1-5).attr("y1",y(v)).attr("y2",y(v));
  });
  xTicks.forEach(v=>{
    tk.append("line").attr("x1",x(v)).attr("x2",x(v)).attr("y1",y1).attr("y2",y1-5);
    tk.append("line").attr("x1",x(v)).attr("x2",x(v)).attr("y1",y0).attr("y2",y0+5);
  });
  minor.forEach(v=>{
    tk.append("line").attr("x1",x(v)).attr("x2",x(v)).attr("y1",y1).attr("y2",y1-3);
    tk.append("line").attr("x1",x(v)).attr("x2",x(v)).attr("y1",y0).attr("y2",y0+3);
  });

  const line = d3.line().x(d=>x(d[0])).y(d=>y(d[1]));
  const sl = g.append("g").attr("clip-path","url(#cl"+pi+")");
  const sm = g.append("g").attr("clip-path","url(#cm"+pi+")");
  data.forEach((s,si)=>{
    if(si===11) return;
    sl.append("path").datum(s).attr("d",line).attr("fill","none")
      .attr("stroke",seriesColors[si]).attr("stroke-width",1);
    const mk = seriesMarkers[si];
    sm.append("g").selectAll("path").data(s).join("path")
      .attr("transform",d=>`translate(${x(d[0])},${y(d[1])})`)
      .attr("d",markerPath(mk))
      .attr("fill", mk==="pentagram" ? "#777" : "none")
      .attr("stroke",seriesColors[si]).attr("stroke-width",1);
  });
  sl.append("path").datum(data[11]).attr("d",line).attr("fill","none")
    .attr("stroke","#000").attr("stroke-width",3.6).attr("stroke-dasharray","9,4,2.5,4");

  g.append("rect").attr("x",x0).attr("y",y0).attr("width",x1-x0).attr("height",y1-y0)
    .attr("fill","none").attr("stroke","#000").attr("stroke-width",1);

  yTicks.forEach((v,i)=>{
    g.append("text").attr("x",x0-4).attr("y",y(v)+3.5).attr("text-anchor","end")
      .attr("font-family",FONT).attr("font-size",10).text(yTickLabels[i]);
  });
  xTicks.forEach((v,i)=>{
    const t = g.append("text").attr("x",x(v)).attr("y",y1+18).attr("text-anchor","middle")
      .attr("font-family",FONT).attr("font-size",10);
    t.append("tspan").text("10");
    t.append("tspan").attr("dy",-5).attr("font-size",7).text(xTickExps[i]);
  });
  g.append("text").attr("x",(x0+x1)/2).attr("y",y1+30).attr("text-anchor","middle")
    .attr("font-family",FONT).attr("font-size",10.5).text("FPR");
  g.append("text").attr("transform",`translate(${x0-30},${(y0+y1)/2}) rotate(-90)`)
    .attr("text-anchor","middle").attr("font-family",FONT).attr("font-size",10.5).text("TPR");
  g.append("text").attr("x",(x0+x1)/2-15).attr("y",y1+66).attr("text-anchor","middle")
    .attr("font-family","'Liberation Serif','Times New Roman',serif").attr("font-size",20.5)
    .text(panelTitles[pi]);
});

// ---------- legend ----------
const legStart = [14.6,102,187,295,417,503,592,700,810,906,1020,1099];
const lg = svg.append("g");
lg.append("rect").attr("x",7.5).attr("y",8.5).attr("width",1189).attr("height",38)
  .attr("fill","#fff").attr("stroke","#000").attr("stroke-width",1.2);
seriesNames.forEach((n,i)=>{
  const lx = legStart[i], ly = 27;
  if(i===11){
    lg.append("line").attr("x1",lx).attr("x2",lx+39).attr("y1",ly).attr("y2",ly)
      .attr("stroke","#000").attr("stroke-width",3.6).attr("stroke-dasharray","2,3.5,7,3.5");
  } else {
    lg.append("line").attr("x1",lx).attr("x2",lx+39).attr("y1",ly).attr("y2",ly)
      .attr("stroke",seriesColors[i]).attr("stroke-width",1);
    lg.append("path").attr("transform",`translate(${lx+19.5},${ly})`).attr("d",markerPath(seriesMarkers[i]))
      .attr("fill",seriesMarkers[i]==="pentagram"?"#777":"none").attr("stroke",seriesColors[i]).attr("stroke-width",1);
  }
  lg.append("text").attr("x",lx+43).attr("y",ly+4).attr("font-family","'Liberation Mono','Courier New',monospace")
    .attr("font-size",12.8).attr("fill","#333").text(n);
});
</script></body></html>
